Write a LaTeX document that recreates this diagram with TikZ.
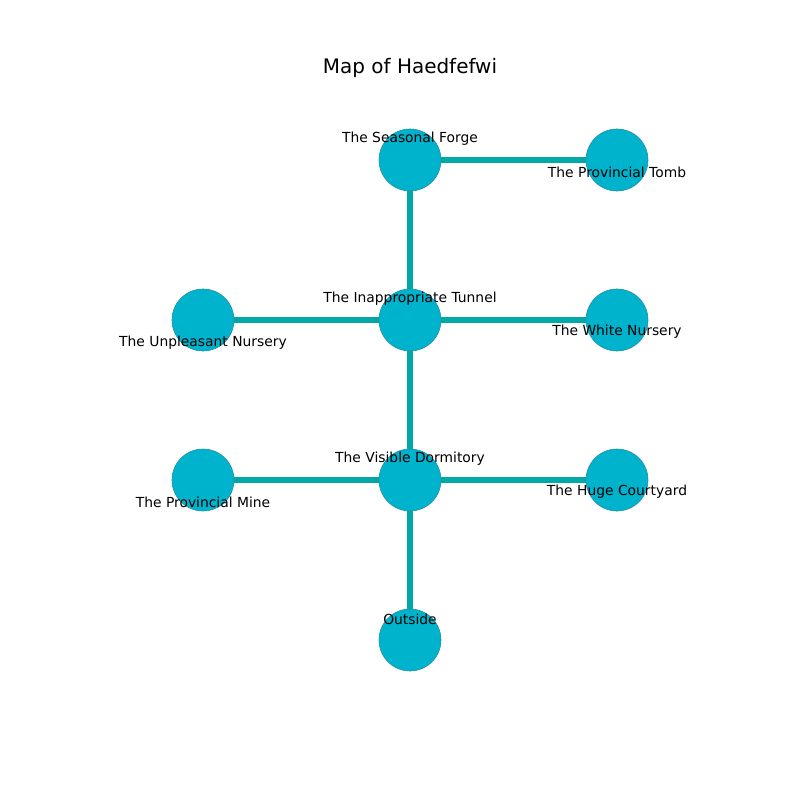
\documentclass[tikz,border=0pt]{standalone}
\usepackage{fontspec}
\setmainfont{DejaVu Sans}
\definecolor{nodefill}{RGB}{0,179,204}
\definecolor{nodeedge}{RGB}{40,140,160}
\definecolor{edgecol}{RGB}{0,168,168}
\begin{document}
\begin{tikzpicture}[x=0.025cm,y=-0.025cm,
  room/.style={circle,fill=nodefill,draw=nodeedge,line width=0.4pt,minimum size=1.55cm,inner sep=0pt},
  lbl/.style={inner sep=0pt,font=\fontsize{9.85}{11}\selectfont},
  link/.style={edgecol,line width=3.9pt}]
\useasboundingbox (0,0) rectangle (800,800);
\node[inner sep=0pt,font=\fontsize{14.2}{17}\selectfont] (title) at (410,68) {Map of Haedfefwi};
\coordinate (pforge) at (410,160);
\coordinate (ptomb) at (617,160);
\coordinate (ptunnel) at (410,320);
\coordinate (punpl) at (203,320);
\coordinate (pwhite) at (617,320);
\coordinate (pdorm) at (410,480);
\coordinate (pmine) at (203,480);
\coordinate (pcourt) at (617,480);
\coordinate (pout) at (410,640);
\draw[link] (pforge) -- (ptomb);
\draw[link] (pforge) -- (ptunnel);
\draw[link] (ptunnel) -- (punpl);
\draw[link] (ptunnel) -- (pwhite);
\draw[link] (ptunnel) -- (pdorm);
\draw[link] (pdorm) -- (pmine);
\draw[link] (pdorm) -- (pcourt);
\draw[link] (pdorm) -- (pout);
\node[room] (forge) at (pforge) {};
\node[room] (tomb) at (ptomb) {};
\node[room] (tunnel) at (ptunnel) {};
\node[room] (unpl) at (punpl) {};
\node[room] (white) at (pwhite) {};
\node[room] (dorm) at (pdorm) {};
\node[room] (mine) at (pmine) {};
\node[room] (court) at (pcourt) {};
\node[room] (out) at (pout) {};
\node[lbl] (lforge) at (410,139) {The Seasonal Forge};
\node[lbl] (ltomb) at (617,172) {The Provincial Tomb};
\node[lbl] (ltunnel) at (410,299) {The Inappropriate Tunnel};
\node[lbl] (lunpl) at (203,343) {The Unpleasant Nursery};
\node[lbl] (lwhite) at (617,332) {The White Nursery};
\node[lbl] (ldorm) at (410,459) {The Visible Dormitory};
\node[lbl] (lmine) at (203,502) {The Provincial Mine};
\node[lbl] (lcourt) at (617,492) {The Huge Courtyard};
\node[lbl] (lout) at (410,619) {Outside};
\end{tikzpicture}
\end{document}
